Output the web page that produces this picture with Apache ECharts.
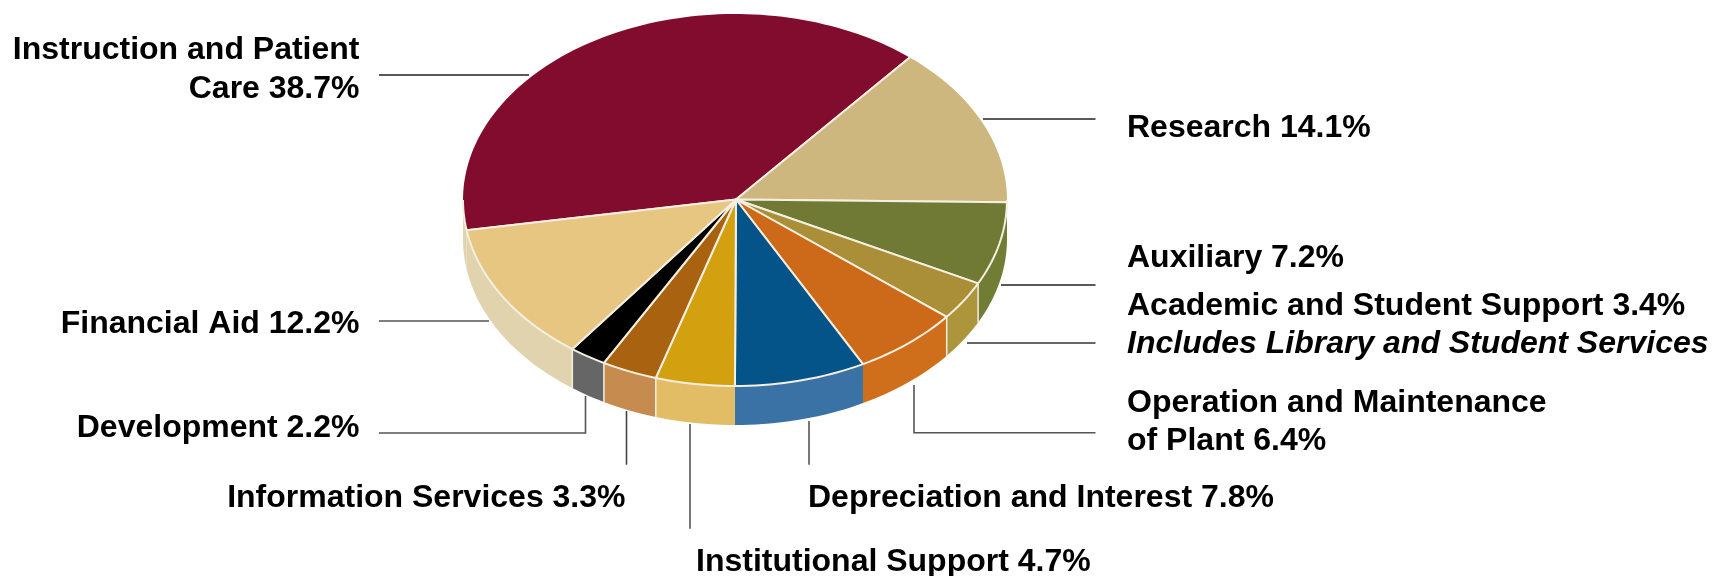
<!DOCTYPE html>
<html>
<head>
<meta charset="utf-8">
<style>html,body{margin:0;padding:0;background:#fff}#c{width:1716px;height:576px}</style>
<script src="https://cdn.jsdelivr.net/npm/echarts@6/dist/echarts.min.js"></script>
</head>
<body>
<div id="c"></div>
<script>
// Data, clockwise from the left edge of the pie
const categories = ['Instruction and Patient\nCare', 'Research', 'Auxiliary', 'Academic and Student Support', 'Operation and Maintenance\nof Plant', 'Depreciation and Interest', 'Institutional Support', 'Information Services', 'Development', 'Financial Aid'];
const shares = [38.7, 14.1, 7.2, 3.4, 6.4, 7.8, 4.7, 3.3, 2.2, 12.2];
const noteLine = 'Includes Library and Student Services';

// Styles
const topColors = ['#820C2D', '#CDB77F', '#717A35', '#AA8F38', '#CC6A19', '#04548A', '#D3A010', '#A9620F', '#000000', '#E6C681'];
const sideColors = ['#E0D3AE', '#717C34', '#717C34', '#AD953C', '#CF6E1B', '#3A72A5', '#E3BC66', '#C68C4F', '#666666', '#E0D3AE'];
const seamColor = '#F4EFE0';
const seamedWalls = [3, 4, 7, 8, 9];

// Tilted-disc projection
const disc = { cx: 735, cy: 200, rx: 272, ry: 186, depth: 39, hubX: 736, hubY: 199.5, startDeg: 189.35 };
const total = shares.reduce((a, b) => a + b, 0);
const rim = (deg, drop) => {
  const r = deg * Math.PI / 180;
  return [disc.cx + disc.rx * Math.cos(r), disc.cy - disc.ry * Math.sin(r) + (drop || 0)];
};
const sliceRange = (i) => {
  let before = 0;
  for (let k = 0; k < i; k++) before += shares[k];
  const a = disc.startDeg - before / total * 360;
  return [a, a - shares[i] / total * 360];
};
const arc = (from, to, drop) => {
  const n = Math.max(2, Math.ceil(Math.abs(from - to) / 1.5));
  const pts = [];
  for (let j = 0; j <= n; j++) pts.push(rim(from + (to - from) * j / n, drop));
  return pts;
};

// The near side of the disc is where sin(t) < 0
const visibleBands = [[0, -180], [360, 180]];
const hub = [disc.hubX, disc.hubY];

const renderTop = (params, api) => {
  const [a, b] = sliceRange(api.value(0));
  const outline = [{
    type: 'polygon',
    shape: { points: [hub].concat(arc(a, b)) },
    style: { fill: topColors[params.dataIndex] },
    silent: true
  }, {
    type: 'polyline',
    shape: { points: [rim(a), hub, rim(b)] },
    style: { stroke: seamColor, lineWidth: 2, fill: null, lineJoin: 'round' },
    silent: true
  }];
  visibleBands.forEach(([hi, lo]) => {
    const from = Math.min(a, hi), to = Math.max(b, lo);
    if (from <= to) return;
    outline.push({
      type: 'polyline',
      shape: { points: arc(from, to) },
      style: { stroke: seamColor, lineWidth: 2, fill: null },
      silent: true
    });
  });
  return { type: 'group', children: outline };
};

const renderWall = (params, api) => {
  const [a, b] = sliceRange(api.value(0));
  const children = [];
  visibleBands.forEach(([hi, lo]) => {
    const from = Math.min(a, hi), to = Math.max(b, lo);
    if (from <= to) return;
    children.push({
      type: 'polygon',
      shape: { points: arc(from, to, 0).concat(arc(to, from, disc.depth)) },
      style: { fill: sideColors[params.dataIndex] },
      silent: true
    });
    if (from === a && seamedWalls.indexOf(params.dataIndex) >= 0) {
      children.push({
        type: 'polyline',
        shape: { points: [rim(from, 0), rim(from, disc.depth)] },
        style: { stroke: seamColor, lineWidth: 1.5, fill: null },
        silent: true
      });
    }
  });
  return { type: 'group', children };
};

const rows = shares.map((v, i) => [i, v]);

// Annotation layout: label anchor + baseline(s), and leader polylines
const labelSpots = [
  { x: 359.5, align: 'right', base: [58, 96.7] },
  { x: 1127, align: 'left', base: [136] },
  { x: 1127, align: 'left', base: [265.7] },
  { x: 1127, align: 'left', base: [314] },
  { x: 1127, align: 'left', base: [410.7, 449] },
  { x: 808, align: 'left', base: [506] },
  { x: 696, align: 'left', base: [570] },
  { x: 625.5, align: 'right', base: [506] },
  { x: 359.5, align: 'right', base: [436] },
  { x: 359.5, align: 'right', base: [332] }
];
const leaders = [
  { pts: [[379, 75], [529, 75]], c: '#222' },
  { pts: [[983, 119], [1095.5, 119]], c: '#222' },
  { pts: [[1001, 285], [1095.5, 285]], c: '#222' },
  { pts: [[967, 343], [1095.5, 343]], c: '#333' },
  { pts: [[914, 385], [914, 432.7], [1095.5, 432.7]], c: '#555' },
  { pts: [[809, 421], [809, 464.7]], c: '#555' },
  { pts: [[690, 424], [690, 528.7]], c: '#555' },
  { pts: [[626.5, 411], [626.5, 464.7]], c: '#444' },
  { pts: [[585.5, 396], [585.5, 433], [379, 433]], c: '#555' },
  { pts: [[379, 321], [489, 321]], c: '#555' }
];

const textMid = 8; // baseline to vertical middle of the line box
const fontBase = { fontFamily: '"Liberation Sans", Arial, sans-serif', fontSize: 32, fill: '#000' };
const graphics = [];
leaders.forEach((l) => graphics.push({
  type: 'polyline', shape: { points: l.pts }, silent: true,
  style: { stroke: l.c, lineWidth: 1.6, fill: null }
}));
categories.forEach((name, i) => {
  const lines = (name + ' ' + shares[i].toFixed(1) + '%').split('\n');
  const spot = labelSpots[i];
  lines.forEach((t, j) => graphics.push({
    type: 'text', silent: true, x: spot.x, y: spot.base[j] - textMid,
    style: Object.assign({}, fontBase, { text: t, fontWeight: 'bold', align: spot.align, verticalAlign: 'middle' })
  }));
});
graphics.push({
  type: 'text', silent: true, x: 1127, y: 352 - textMid,
  style: Object.assign({}, fontBase, { text: noteLine, fontWeight: 'bold', fontStyle: 'italic', align: 'left', verticalAlign: 'middle' })
});

const chart = echarts.init(document.getElementById('c'), null, { renderer: 'canvas' });
chart.setOption({
  animation: false,
  backgroundColor: '#fff',
  tooltip: { show: false },
  series: [
    { type: 'custom', coordinateSystem: 'none', data: rows, encode: { value: 1 }, renderItem: renderWall, z: 1, clip: false },
    { type: 'custom', coordinateSystem: 'none', data: rows, encode: { value: 1 }, renderItem: renderTop, z: 2, clip: false }
  ],
  graphic: graphics
});
</script>
</body>
</html>
